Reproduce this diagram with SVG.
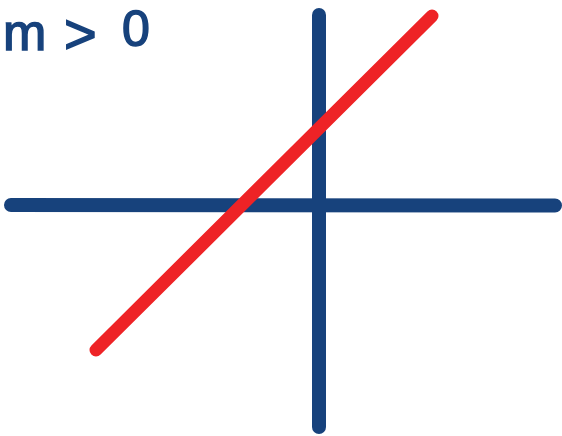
<svg xmlns="http://www.w3.org/2000/svg" width="562" height="436" viewBox="0 0 562 436">
<style>
.axis{stroke:#17427c;stroke-width:14;stroke-linecap:round;fill:none}
.line{stroke:#ee2326;stroke-width:13;stroke-linecap:round;fill:none}
.lbl{font-family:"Liberation Sans",Arial,sans-serif;fill:#17427c;stroke:#17427c;stroke-width:1.5}
</style>
<rect width="562" height="436" fill="#ffffff"/>
<line id="x-axis" class="axis" x1="11" y1="205" x2="555" y2="205.5"/>
<line id="y-axis" class="axis" x1="319" y1="15" x2="319" y2="427"/>
<line id="graph-line" class="line" x1="96" y1="350" x2="432" y2="16"/>
<text id="label" class="lbl" y="50" font-size="52"><tspan x="3">m</tspan><tspan x="64" font-size="56" y="53">&gt;</tspan><tspan x="122" font-size="50" y="46">0</tspan></text>
</svg>
